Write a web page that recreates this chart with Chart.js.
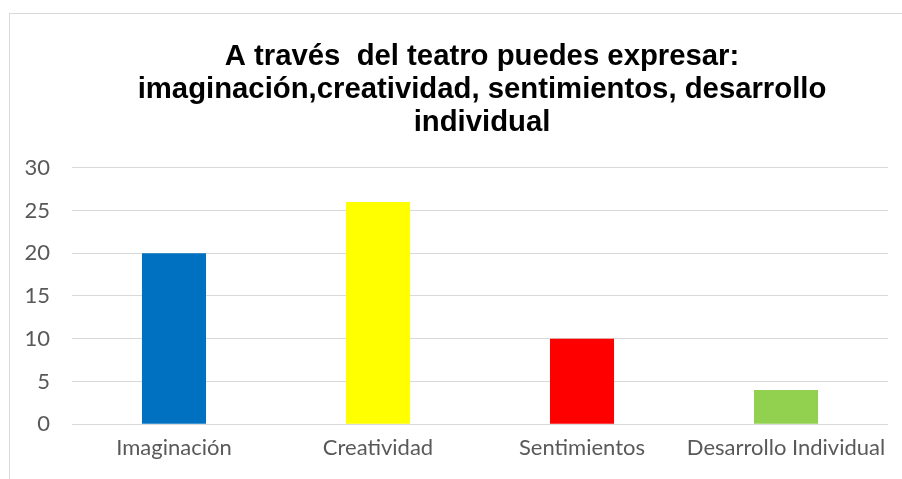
<!DOCTYPE html>
<html>
<head>
<meta charset="utf-8">
<script src="https://cdn.jsdelivr.net/npm/chart.js@4/dist/chart.umd.min.js"></script>
<style>
  html, body { margin: 0; padding: 0; background: #fff; overflow: hidden; }
  #wrap { position: relative; width: 902px; height: 479px; overflow: hidden; }
  #frame { position: absolute; left: 9px; top: 13px; width: 1000px; height: 1000px;
           border-left: 1px solid #d9d9d9; border-top: 1px solid #d9d9d9; }
  canvas { position: absolute; left: 0; top: 0; }
</style>
</head>
<body>
<div id="wrap">
  <div id="frame"></div>
  <canvas id="grafico" width="964" height="479"></canvas>
</div>
<script>
// Datos del gráfico
const categorias = ['Imaginación', 'Creatividad', 'Sentimientos', 'Desarrollo Individual'];
const valores = [20, 26, 10, 4];
const colores = ['#0070C0', '#FFFF00', '#FF0000', '#92D050'];
const titulo = [
    'A través  del teatro puedes expresar:',
    'imaginación,creatividad, sentimientos, desarrollo',
    'individual'
];

const ctx = document.getElementById('grafico').getContext('2d');
new Chart(ctx, {
    type: 'bar',
    data: {
        labels: categorias,
        datasets: [{
            data: valores,
            backgroundColor: colores,
            barPercentage: 0.314,
            categoryPercentage: 1
        }]
    },
    options: {
        responsive: false,
        animation: false,
        layout: { padding: 0 },
        plugins: {
            legend: { display: false },
            tooltip: { enabled: false },
            title: {
                display: true,
                text: titulo,
                color: '#000',
                font: { family: '"Liberation Sans", Arial, sans-serif', size: 29.3, weight: 'bold', lineHeight: 1.126 },
                padding: { top: 40, bottom: 28.7 }
            }
        },
        scales: {
            y: {
                min: 0,
                max: 30,
                ticks: {
                    stepSize: 5,
                    padding: 22,
                    color: '#595959',
                    font: { family: 'Lato, "Open Sans", sans-serif', size: 22 }
                },
                grid: { color: '#d9d9d9', drawTicks: false },
                border: { display: false },
                afterFit: function (scale) { scale.width = 72; }
            },
            // eje vacío a la derecha: deja el título centrado como en el original
            derecha: {
                type: 'linear',
                position: 'right',
                display: true,
                ticks: { display: false },
                grid: { display: false, drawTicks: false },
                border: { display: false },
                afterFit: function (scale) { scale.width = 76; }
            },
            x: {
                ticks: {
                    padding: 10,
                    maxRotation: 0,
                    minRotation: 0,
                    autoSkip: false,
                    color: '#595959',
                    font: { family: 'Lato, "Open Sans", sans-serif', size: 22 }
                },
                grid: { display: false, drawTicks: false },
                border: { display: false },
                afterFit: function (scale) { scale.height = 54.7; }
            }
        }
    }
});
</script>
</body>
</html>
